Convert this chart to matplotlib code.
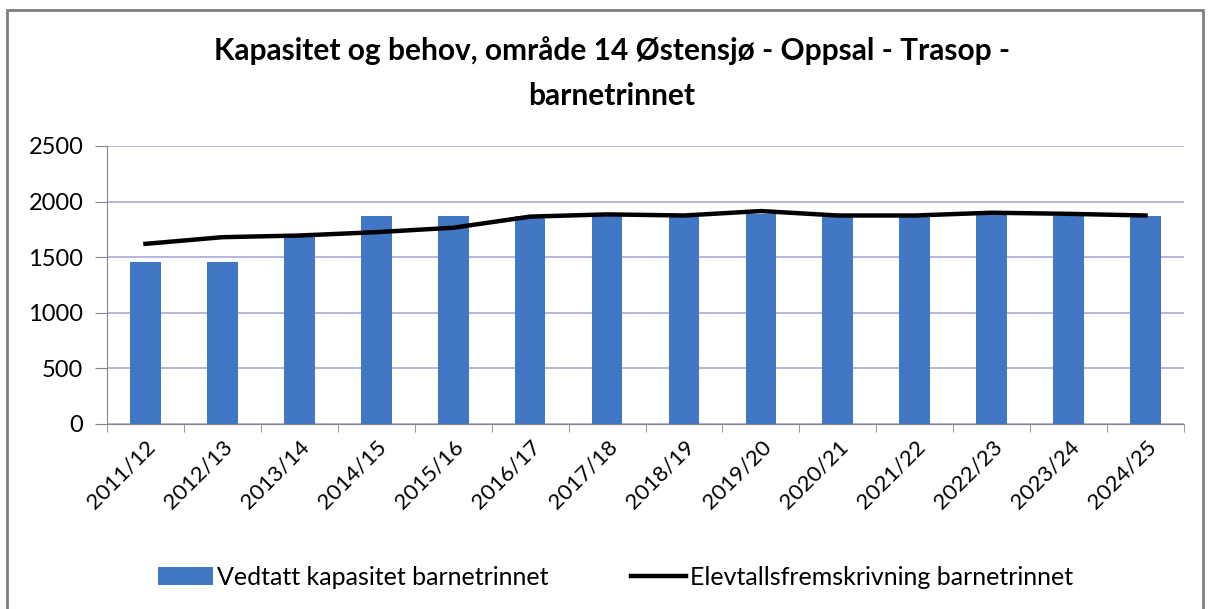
import numpy as np
import matplotlib.pyplot as plt
from matplotlib.patches import Rectangle

plt.rcParams['font.family'] = ['Lato', 'DejaVu Sans']

years = ['2011/12', '2012/13', '2013/14', '2014/15', '2015/16', '2016/17', '2017/18',
         '2018/19', '2019/20', '2020/21', '2021/22', '2022/23', '2023/24', '2024/25']
kapasitet = [1460, 1460, 1680, 1875, 1875, 1875, 1875, 1875, 1890, 1875, 1875, 1885, 1875, 1870]
elevtall = [1620, 1680, 1695, 1725, 1765, 1865, 1885, 1875, 1915, 1875, 1875, 1900, 1890, 1875]

fig = plt.figure(figsize=(12.12, 6.09), dpi=100)
ax = fig.add_axes([107 / 1212, 1 - 424 / 609, (1184 - 107) / 1212, (424 - 146) / 609])

x = np.arange(len(years))
bars = ax.bar(x, kapasitet, width=0.4, color='#4177c4', zorder=2)
line, = ax.plot(x, elevtall, color='black', linewidth=3.2, zorder=3)

ax.set_xlim(-0.5, len(years) - 0.5)
ax.set_ylim(0, 2500)
ax.set_yticks(np.arange(0, 2501, 500))
ax.yaxis.grid(True, color='#a8a8d8', linewidth=1.2, zorder=0)
ax.set_axisbelow(True)

ax.set_xticks(x)
ax.set_xticklabels(years, rotation=45, ha='right', rotation_mode='anchor', fontsize=16)
ax.set_xticks(np.arange(-0.5, len(years)), minor=True)
ax.tick_params(axis='x', which='major', length=0, pad=9)
ax.tick_params(axis='x', which='minor', length=6, color='#868686')
ax.tick_params(axis='y', length=9, color='#868686', labelsize=17, pad=8)

for s in ['top', 'right']:
    ax.spines[s].set_visible(False)
for s in ['left', 'bottom']:
    ax.spines[s].set_color('#868686')

fig.text(0.505, 0.917, 'Kapasitet og behov, område 14 Østensjø - Oppsal - Trasop -',
         ha='center', va='center', fontsize=21.5, fontweight='bold')
fig.text(0.505, 0.843, 'barnetrinnet', ha='center', va='center',
         fontsize=21.5, fontweight='bold')

fig.legend([bars, line],
           ['Vedtatt kapasitet barnetrinnet', 'Elevtallsfremskrivning barnetrinnet'],
           loc='center', bbox_to_anchor=(0.508, 0.052), ncol=2, frameon=False,
           fontsize=18, handlelength=2.2, handletextpad=0.15, columnspacing=3.3)

fig.patches.append(Rectangle((7 / 1212, -0.01), (1203 - 7) / 1212, 1 - 10 / 609 + 0.01,
                             transform=fig.transFigure, fill=False,
                             edgecolor='#7f7f7f', linewidth=2))

fig.savefig('out.png', dpi=100, facecolor='white')
